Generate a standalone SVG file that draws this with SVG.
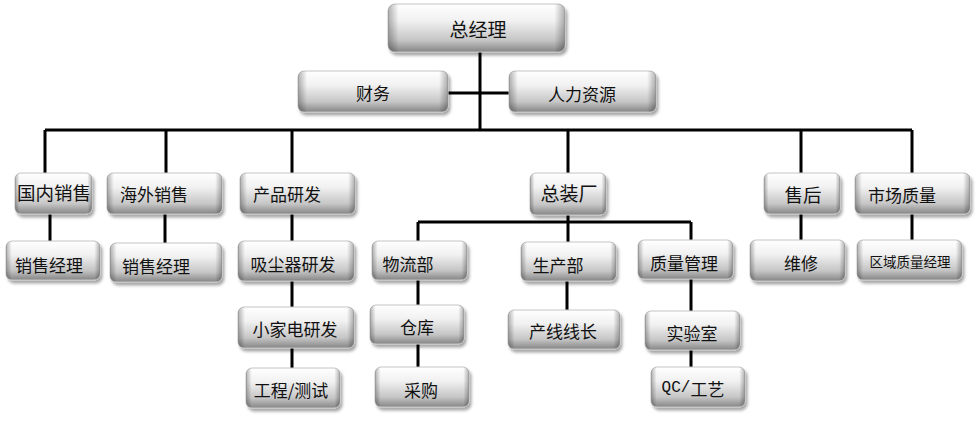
<svg xmlns="http://www.w3.org/2000/svg" width="976" height="431" viewBox="0 0 976 431">
<defs>
<linearGradient id="gv" x1="0" y1="0" x2="0" y2="1">
<stop offset="0" stop-color="#ffffff"/>
<stop offset="0.35" stop-color="#f1f1f1"/>
<stop offset="0.75" stop-color="#c6c6c6"/>
<stop offset="1" stop-color="#858585"/>
</linearGradient>
<linearGradient id="gh" x1="0" y1="0" x2="1" y2="0">
<stop offset="0" stop-color="#000" stop-opacity="0.3"/>
<stop offset="0.06" stop-color="#000" stop-opacity="0"/>
<stop offset="0.94" stop-color="#000" stop-opacity="0"/>
<stop offset="1" stop-color="#000" stop-opacity="0.3"/>
</linearGradient>
<filter id="sh" x="-10%" y="-20%" width="125%" height="150%">
<feDropShadow dx="2" dy="3" stdDeviation="1.8" flood-color="#000" flood-opacity="0.35"/>
</filter>
</defs>
<style>
.b{fill:url(#gv);stroke:#c4c4c4;stroke-width:1;filter:url(#sh)}
.o{fill:url(#gh);stroke:none}
.t{font-family:"Noto Sans CJK SC","Microsoft YaHei",sans-serif;font-size:17px;fill:#111;text-anchor:middle;dominant-baseline:central}
.m{font-family:"Liberation Mono","Noto Sans CJK SC",monospace}
.c{stroke:#000;stroke-width:3;fill:none}
</style>
<g id="connectors" class="c">
<path d="M480 52V130M448 93H509M45 130H912"/>
<path d="M45 130V173M166 130V173M292 130V173M568 130V173M801 130V173M912 130V173"/>
<path d="M50 214V241M165 214V243M292 214V241M292 281V307M292 348V368"/>
<path d="M568 215V242M418 222H691M418 222V241M418 280V305M418 344V367M567 281V310M691 222V240M691 279V311M691 350V367"/>
<path d="M801 214V240M912 214V240"/>
</g>
<g id="n-zjl"><rect class="b" x="388" y="4" width="177" height="48" rx="7"/><rect class="o" x="388" y="4" width="177" height="48" rx="7"/><text class="t" x="478" y="28" style="font-size:19px">总经理</text></g>
<g id="n-cw"><rect class="b" x="298" y="71" width="150" height="41" rx="6"/><rect class="o" x="298" y="71" width="150" height="41" rx="6"/><text class="t" x="373" y="92">财务</text></g>
<g id="n-rlzy"><rect class="b" x="509" y="71" width="147" height="41" rx="6"/><rect class="o" x="509" y="71" width="147" height="41" rx="6"/><text class="t" x="582" y="93">人力资源</text></g>
<g id="n-gnxs"><rect class="b" x="15" y="173" width="77" height="41" rx="6"/><rect class="o" x="15" y="173" width="77" height="41" rx="6"/><text class="t" x="54" y="192" style="font-size:18.5px">国内销售</text></g>
<g id="n-hwxs"><rect class="b" x="107" y="173" width="115" height="41" rx="6"/><rect class="o" x="107" y="173" width="115" height="41" rx="6"/><text class="t" x="154" y="193">海外销售</text></g>
<g id="n-cpyf"><rect class="b" x="240" y="173" width="115" height="41" rx="6"/><rect class="o" x="240" y="173" width="115" height="41" rx="6"/><text class="t" x="287" y="193">产品研发</text></g>
<g id="n-zzc"><rect class="b" x="530" y="173" width="76" height="42" rx="6"/><rect class="o" x="530" y="173" width="76" height="42" rx="6"/><text class="t" x="569" y="192" style="font-size:19px">总装厂</text></g>
<g id="n-sh"><rect class="b" x="764" y="173" width="76" height="41" rx="6"/><rect class="o" x="764" y="173" width="76" height="41" rx="6"/><text class="t" x="803" y="194" style="font-size:18.5px">售后</text></g>
<g id="n-scz"><rect class="b" x="855" y="173" width="115" height="41" rx="6"/><rect class="o" x="855" y="173" width="115" height="41" rx="6"/><text class="t" x="902" y="194">市场质量</text></g>
<g id="n-xsjl1"><rect class="b" x="6" y="241" width="94" height="39" rx="6"/><rect class="o" x="6" y="241" width="94" height="39" rx="6"/><text class="t" x="49" y="264">销售经理</text></g>
<g id="n-xsjl2"><rect class="b" x="110" y="243" width="112" height="39" rx="6"/><rect class="o" x="110" y="243" width="112" height="39" rx="6"/><text class="t" x="156" y="265">销售经理</text></g>
<g id="n-xcq"><rect class="b" x="238" y="241" width="116" height="40" rx="6"/><rect class="o" x="238" y="241" width="116" height="40" rx="6"/><text class="t" x="293" y="263">吸尘器研发</text></g>
<g id="n-wlb"><rect class="b" x="372" y="241" width="95" height="39" rx="6"/><rect class="o" x="372" y="241" width="95" height="39" rx="6"/><text class="t" x="408" y="263">物流部</text></g>
<g id="n-scb"><rect class="b" x="521" y="242" width="95" height="39" rx="6"/><rect class="o" x="521" y="242" width="95" height="39" rx="6"/><text class="t" x="558" y="264">生产部</text></g>
<g id="n-zlgl"><rect class="b" x="638" y="240" width="95" height="39" rx="6"/><rect class="o" x="638" y="240" width="95" height="39" rx="6"/><text class="t" x="684" y="262">质量管理</text></g>
<g id="n-wx"><rect class="b" x="750" y="240" width="95" height="41" rx="6"/><rect class="o" x="750" y="240" width="95" height="41" rx="6"/><text class="t" x="801" y="262">维修</text></g>
<g id="n-qyzl"><rect class="b" x="857" y="240" width="105" height="40" rx="6"/><rect class="o" x="857" y="240" width="105" height="40" rx="6"/><text class="t" x="910" y="261" style="font-size:13.5px">区域质量经理</text></g>
<g id="n-xjd"><rect class="b" x="238" y="307" width="116" height="41" rx="6"/><rect class="o" x="238" y="307" width="116" height="41" rx="6"/><text class="t" x="295" y="328">小家电研发</text></g>
<g id="n-ck"><rect class="b" x="370" y="305" width="94" height="39" rx="6"/><rect class="o" x="370" y="305" width="94" height="39" rx="6"/><text class="t" x="417" y="326">仓库</text></g>
<g id="n-cxxz"><rect class="b" x="508" y="310" width="112" height="39" rx="6"/><rect class="o" x="508" y="310" width="112" height="39" rx="6"/><text class="t" x="563" y="330">产线线长</text></g>
<g id="n-sys"><rect class="b" x="645" y="311" width="95" height="39" rx="6"/><rect class="o" x="645" y="311" width="95" height="39" rx="6"/><text class="t" x="692" y="332">实验室</text></g>
<g id="n-gc"><rect class="b" x="246" y="368" width="94" height="40" rx="6"/><rect class="o" x="246" y="368" width="94" height="40" rx="6"/><text class="t" x="291" y="389">工程/测试</text></g>
<g id="n-cg"><rect class="b" x="375" y="367" width="94" height="40" rx="6"/><rect class="o" x="375" y="367" width="94" height="40" rx="6"/><text class="t" x="421" y="389">采购</text></g>
<g id="n-qc"><rect class="b" x="651" y="367" width="94" height="40" rx="6"/><rect class="o" x="651" y="367" width="94" height="40" rx="6"/><text class="t" x="693" y="388"><tspan class="m" style="font-size:16px">QC/</tspan>工艺</text></g>
</svg>
